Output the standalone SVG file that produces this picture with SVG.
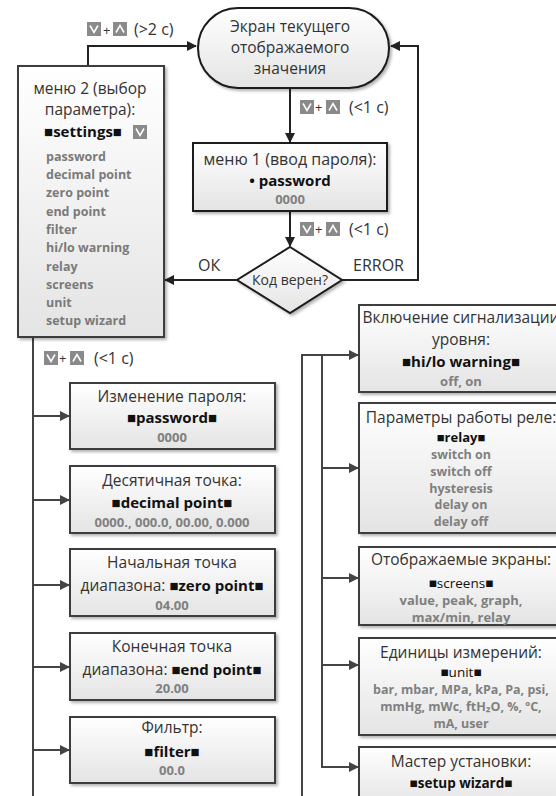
<svg xmlns="http://www.w3.org/2000/svg" xmlns:xlink="http://www.w3.org/1999/xlink" width="556" height="796" viewBox="0 0 556 796">
<defs>
<linearGradient id="g" x1="0" y1="0" x2="0" y2="1"><stop offset="0" stop-color="#ffffff"/><stop offset="1" stop-color="#e4e4e4"/></linearGradient>
<filter id="sh" x="-10%" y="-10%" width="125%" height="130%"><feDropShadow dx="2" dy="2" stdDeviation="1.5" flood-color="#000" flood-opacity="0.3"/></filter>
<marker id="a" markerWidth="10" markerHeight="10" refX="9" refY="5" orient="auto" markerUnits="userSpaceOnUse"><path d="M0,0 L10,5 L0,10 Z" fill="#222"/></marker>
<marker id="ag" markerWidth="10" markerHeight="10" refX="9" refY="5" orient="auto" markerUnits="userSpaceOnUse"><path d="M0,0 L10,5 L0,10 Z" fill="#444"/></marker>
<g id="dn"><rect width="14" height="14" fill="#8a8a8a"/><polyline points="3,3.5 7,10.5 11,3.5" fill="none" stroke="#fff" stroke-width="1.6"/></g>
<g id="up"><rect width="14" height="14" fill="#8a8a8a"/><polyline points="3,10.5 7,3.5 11,10.5" fill="none" stroke="#fff" stroke-width="1.6"/></g>
</defs>
<style>
.box{fill:url(#g);stroke:#3c3c3c;stroke-width:2;filter:url(#sh)}
.blk{fill:url(#g);stroke:#1a1a1a;stroke-width:2;filter:url(#sh)}
text{font-family:"Open Sans","Noto Sans",sans-serif;text-anchor:middle}
.t{font-size:15.5px;fill:#333}
.b{font-size:15px;font-weight:bold;fill:#111}
.v{font-size:13px;font-weight:bold;fill:#808080}
.vs{font-size:12.5px;font-weight:bold;fill:#808080}
.l{font-size:12.5px;font-weight:bold;fill:#7a7a7a;text-anchor:start}
.lab{font-size:16px;fill:#333;text-anchor:start}
.c{fill:none;stroke:#222;stroke-width:2}
.cg{fill:none;stroke:#444;stroke-width:2}
</style>
<rect width="556" height="796" fill="#fff"/>

<g id="connectors">
<polyline class="c" points="88,66 88,46 196,46" marker-end="url(#a)"/>
<line class="c" x1="290" y1="88" x2="290" y2="142" marker-end="url(#a)"/>
<line class="c" x1="290" y1="211" x2="290" y2="246" marker-end="url(#a)"/>
<line class="c" x1="237" y1="280" x2="165" y2="280" marker-end="url(#a)"/>
<polyline class="c" points="342,280 418,280 418,46 391,46" marker-end="url(#a)"/>
<line class="cg" x1="33" y1="337" x2="33" y2="796"/>
<line class="cg" x1="33" y1="416" x2="69" y2="416" marker-end="url(#ag)"/>
<line class="cg" x1="33" y1="500" x2="69" y2="500" marker-end="url(#ag)"/>
<line class="cg" x1="33" y1="585" x2="69" y2="585" marker-end="url(#ag)"/>
<line class="cg" x1="33" y1="667" x2="69" y2="667" marker-end="url(#ag)"/>
<line class="cg" x1="33" y1="750" x2="69" y2="750" marker-end="url(#ag)"/>
<polyline class="cg" points="302,796 302,355 358,355" marker-end="url(#ag)"/>
<polyline class="cg" points="322,355 322,767 358,767" marker-end="url(#ag)"/>
<line class="cg" x1="322" y1="468" x2="358" y2="468" marker-end="url(#ag)"/>
<line class="cg" x1="322" y1="578" x2="358" y2="578" marker-end="url(#ag)"/>
<line class="cg" x1="322" y1="665" x2="358" y2="665" marker-end="url(#ag)"/>
<g id="lbl1"><use xlink:href="#dn" x="87" y="22"/><text class="lab" x="103" y="35" style="font-size:13px">+</text><use xlink:href="#up" x="113" y="22"/><text class="lab" x="134" y="35">(&gt;2 c)</text></g>
<g id="lbl2"><use xlink:href="#dn" x="300" y="100"/><text class="lab" x="315" y="112" style="font-size:13px">+</text><use xlink:href="#up" x="326" y="100"/><text class="lab" x="349" y="113">(&lt;1 c)</text></g>
<g id="lbl3"><use xlink:href="#dn" x="300" y="222"/><text class="lab" x="315" y="234" style="font-size:13px">+</text><use xlink:href="#up" x="326" y="222"/><text class="lab" x="349" y="235">(&lt;1 c)</text></g>
<text class="lab" x="198" y="271">ОК</text>
<text class="lab" x="353" y="271">ERROR</text>
<g id="lbl4"><use xlink:href="#dn" x="44" y="351"/><text class="lab" x="59" y="363" style="font-size:13px">+</text><use xlink:href="#up" x="70" y="351"/><text class="lab" x="94" y="364">(&lt;1 c)</text></g>
</g>

<g id="start"><rect class="blk" x="198" y="8" width="191" height="80" rx="40"/>
<text class="t" x="290" y="32">Экран текущего</text><text class="t" x="290" y="53">отображаемого</text><text class="t" x="290" y="74">значения</text></g>

<g id="menu1"><rect class="blk" x="193" y="143" width="194" height="68"/>
<text class="t" x="290" y="165" style="font-size:16px">меню 1 (ввод пароля):</text><text class="b" x="290" y="186">• password</text><text class="v" x="290" y="204">0000</text></g>

<g id="decision"><polygon class="blk" points="290,247 342,280 290,313 237,280"/>
<text class="t" x="290" y="285" style="font-size:14px">Код верен?</text></g>

<g id="menu2"><rect class="box" x="18" y="66" width="146" height="271"/>
<text class="t" x="90" y="94">меню 2 (выбор</text><text class="t" x="90" y="115">параметра):</text>
<text class="b" x="83" y="137">■settings■</text><use xlink:href="#dn" x="133" y="125"/>
<text class="l" x="46" y="161">password</text><text class="l" x="46" y="179">decimal point</text><text class="l" x="46" y="197">zero point</text><text class="l" x="46" y="216">end point</text><text class="l" x="46" y="234">filter</text><text class="l" x="46" y="252">hi/lo warning</text><text class="l" x="46" y="271">relay</text><text class="l" x="46" y="289">screens</text><text class="l" x="46" y="307">unit</text><text class="l" x="46" y="325">setup wizard</text></g>

<g id="pw"><rect class="box" x="70" y="383" width="205" height="66"/>
<text class="t" x="172" y="402">Изменение пароля:</text><text class="b" x="172" y="423">■password■</text><text class="v" x="172" y="442">0000</text></g>
<g id="dp"><rect class="box" x="70" y="466" width="205" height="67"/>
<text class="t" x="172" y="486">Десятичная точка:</text><text class="b" x="172" y="508">■decimal point■</text><text class="v" x="172" y="527">0000., 000.0, 00.00, 0.000</text></g>
<g id="zp"><rect class="box" x="70" y="549" width="205" height="67"/>
<text class="t" x="172" y="568">Начальная точка</text><text class="t" x="172" y="591">диапазона: <tspan style="font-weight:bold;fill:#111;font-size:15px">■zero point■</tspan></text><text class="v" x="172" y="610">04.00</text></g>
<g id="ep"><rect class="box" x="70" y="633" width="205" height="67"/>
<text class="t" x="172" y="652">Конечная точка</text><text class="t" x="172" y="675">диапазона: <tspan style="font-weight:bold;fill:#111;font-size:15px">■end point■</tspan></text><text class="v" x="172" y="693">20.00</text></g>
<g id="fl"><rect class="box" x="70" y="717" width="205" height="66"/>
<text class="t" x="172" y="733">Фильтр:</text><text class="b" x="172" y="757">■filter■</text><text class="v" x="172" y="775">00.0</text></g>

<g id="hilo"><rect class="box" x="359" y="305" width="204" height="87"/>
<text class="t" x="461" y="323">Включение сигнализации</text><text class="t" x="461" y="345">уровня:</text><text class="b" x="461" y="367">■hi/lo warning■</text><text class="v" x="461" y="386">off, on</text></g>
<g id="relay"><rect class="box" x="359" y="403" width="204" height="130"/>
<text class="t" x="461" y="423">Параметры работы реле:</text><text class="b" x="461" y="442" style="font-size:13px">■relay■</text>
<text class="vs" x="461" y="459">switch on</text><text class="vs" x="461" y="476">switch off</text><text class="vs" x="461" y="493">hysteresis</text><text class="vs" x="461" y="509">delay on</text><text class="vs" x="461" y="526">delay off</text></g>
<g id="screens"><rect class="box" x="359" y="547" width="204" height="78"/>
<text class="t" x="461" y="565">Отображаемые экраны:</text><text class="b" x="461" y="588" style="font-size:13.5px;font-weight:normal">■screens■</text><text class="v" x="461" y="605">value, peak, graph,</text><text class="v" x="461" y="622">max/min, relay</text></g>
<g id="unit"><rect class="box" x="359" y="638" width="204" height="97"/>
<text class="t" x="461" y="658">Единицы измерений:</text><text class="b" x="461" y="677" style="font-size:13.5px;font-weight:normal">■unit■</text><text class="vs" x="461" y="694">bar, mbar, MPa, kPa, Pa, psi,</text><text class="vs" x="461" y="711">mmHg, mWc, ftH₂O, %, ºC,</text><text class="vs" x="461" y="728">mA, user</text></g>
<g id="wizard"><rect class="box" x="359" y="747" width="204" height="60"/>
<text class="t" x="461" y="767">Мастер установки:</text><text class="b" x="461" y="788" style="font-size:13.5px">■setup wizard■</text></g>
</svg>
